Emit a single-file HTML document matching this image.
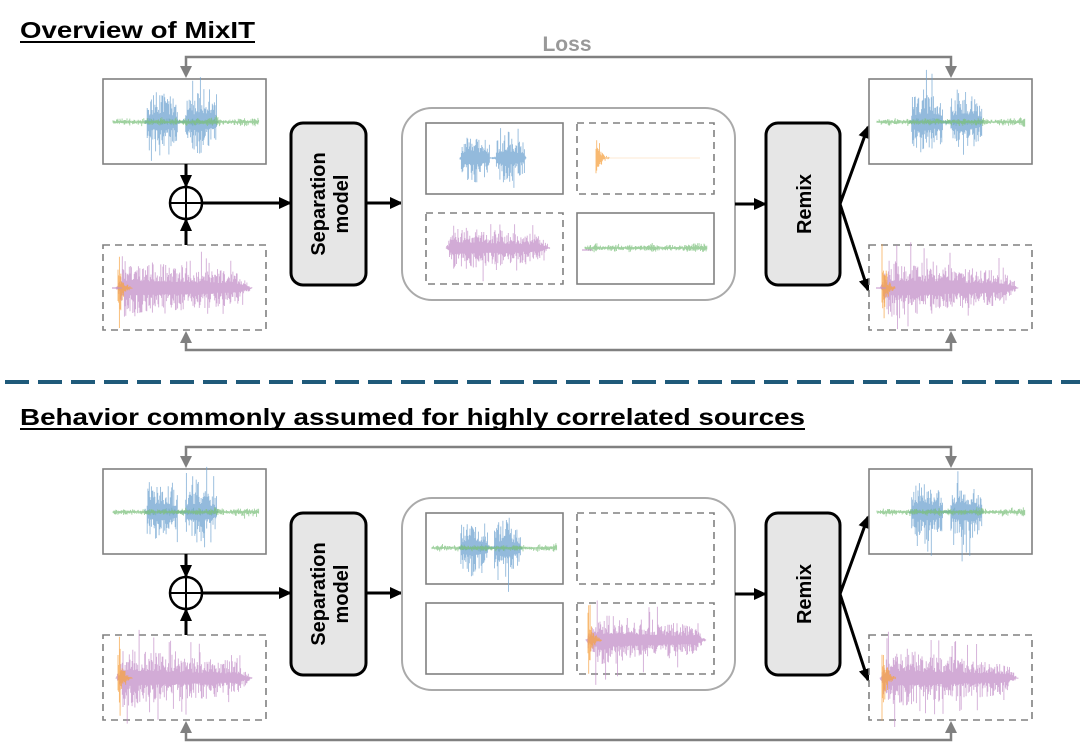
<!DOCTYPE html>
<html><head><meta charset="utf-8"><style>
html,body{margin:0;padding:0;background:#fff;}
svg{display:block;font-family:"Liberation Sans",sans-serif;}
</style></head><body>
<svg id="s" width="1080" height="743" viewBox="0 0 1080 743" xmlns="http://www.w3.org/2000/svg">
<defs>
<marker id="ab" markerWidth="14" markerHeight="14" refX="11" refY="7" orient="auto" markerUnits="userSpaceOnUse"><path d="M0,1 L13,7 L0,13 z" fill="#000"/></marker>
</defs>
<text x="20" y="38" font-size="23" font-weight="bold" textLength="235" lengthAdjust="spacingAndGlyphs">Overview of MixIT</text>
<line x1="20" y1="42" x2="255" y2="42" stroke="#000" stroke-width="2"/>
<text x="567" y="51" font-size="21" font-weight="bold" fill="#999" text-anchor="middle">Loss</text>
<line x1="0" y1="382" x2="1080" y2="382" stroke="#1f5a7a" stroke-width="4" stroke-dasharray="24,9" stroke-dashoffset="-5"/>
<text x="20" y="425" font-size="23" font-weight="bold" textLength="785" lengthAdjust="spacingAndGlyphs">Behavior commonly assumed for highly correlated sources</text>
<line x1="20" y1="429" x2="805" y2="429" stroke="#000" stroke-width="2"/>
</svg>
<script>
var NS="http://www.w3.org/2000/svg",S=document.getElementById('s');
var seed=7;function rnd(){seed=(seed*16807)%2147483647;return seed/2147483647;}
function el(t,a,p){var e=document.createElementNS(NS,t);for(var k in a)e.setAttribute(k,a[k]);(p||S).appendChild(e);return e;}
function wave(g,x0,x1,yc,env,col,op){var d='';for(var x=x0;x<=x1;x+=0.7){var a=env(x)*(0.25+0.75*Math.pow(rnd(),1.8));var b=env(x)*(0.25+0.75*Math.pow(rnd(),1.8));d+='M'+x.toFixed(1)+','+(yc-a).toFixed(1)+'V'+(yc+b).toFixed(1);}el('path',{d:d,stroke:col,'stroke-width':0.9,'stroke-opacity':op,fill:'none'},g);}
function green(g,x0,x1,yc,sc){wave(g,x0,x1,yc,function(x){var t=(x-x0)/(x1-x0);return sc*(2+3*Math.abs(Math.sin(t*20))*rnd()+(t>0.9?3*rnd():0));},'#7fc27f',0.75);}
function blue(g,x0,x1,yc,sc){wave(g,x0,x1,yc,function(x){var t=(x-x0)/(x1-x0);var e=0;if(t>0.02&&t<0.45)e=1-Math.abs(t-0.2)*1.6;if(t>0.55&&t<0.98)e=1-Math.abs(t-0.72)*1.7;e=Math.max(e,0.06);return sc*e*(rnd()<0.12?1.5:0.85);},'#6fa3d0',0.75);}
function purple(g,x0,x1,yc,sc){wave(g,x0,x1,yc,function(x){var t=(x-x0)/(x1-x0);var e=t<0.05?t*14:(1-0.5*t)*(t>0.9?(1-t)*10:1);return sc*Math.max(e,0.03)*(rnd()<0.12?1.4:0.8);},'#c38fc8',0.75);}
function orange(g,x0,yc,sc){wave(g,x0,x0+14,yc,function(x){var t=(x-x0)/14;var e=t<0.2?1:Math.exp(-(t-0.2)*4)*0.6;return sc*e;},'#f5a142',0.75);}
function box(x,y,w,h,dash,g){el('rect',{x:x,y:y,width:w,height:h,fill:'#fff',stroke:'#808080','stroke-width':1.6,'stroke-dasharray':dash?'7,5':'none'},g);}
function line(x1,y1,x2,y2,c,w,m,g){var a={x1:x1,y1:y1,x2:x2,y2:y2,stroke:c,'stroke-width':w};if(m)a['marker-end']='url(#'+m+')';el('line',a,g);}
function mixBlueGreen(g,x0,x1,yc,sc){green(g,x0,x1,yc,sc);blue(g,x0+(x1-x0)*0.22,x0+(x1-x0)*0.72,yc,40*sc);green(g,x0+(x1-x0)*0.22,x0+(x1-x0)*0.72,yc,sc);}
function mixOP(g,x0,x1,yc,sc){purple(g,x0+4,x1,yc,38*sc);orange(g,x0+6,yc,46*sc);line(x0,yc,x0+10,yc,'#c38fc8',1);}
function section(oy,second){
 var g=el('g',{transform:'translate(0,'+oy+')'});
 el('path',{d:'M186,67 V57 H951 V67',stroke:'#808080','stroke-width':2.5,fill:'none'},g);
 el('path',{d:'M180,66 L192,66 L186,78 z',fill:'#808080'},g);
 el('path',{d:'M945,66 L957,66 L951,78 z',fill:'#808080'},g);
 el('path',{d:'M186,342 V350 H951 V342',stroke:'#808080','stroke-width':2.5,fill:'none'},g);
 el('path',{d:'M180,343 L192,343 L186,331 z',fill:'#808080'},g);
 el('path',{d:'M945,343 L957,343 L951,331 z',fill:'#808080'},g);
 box(103,79,163,85,false,g);mixBlueGreen(g,113,259,122,1);
 box(103,245,163,85,true,g);mixOP(g,112,252,288,1);
 line(186,164,186,186,'#000',3,'ab',g);line(186,245,186,220,'#000',3,'ab',g);
 el('circle',{cx:186,cy:203,r:16,fill:'#fff',stroke:'#000','stroke-width':2.5},g);
 line(170,203,202,203,'#000',2,null,g);line(186,187,186,219,'#000',2,null,g);
 line(202,203,290,203,'#000',3,'ab',g);
 el('rect',{x:291,y:123,width:75,height:162,rx:12,fill:'#e6e6e6',stroke:'#000','stroke-width':3},g);
 var t=el('text',{transform:'translate(328,204) rotate(-90)','font-size':20,'font-weight':'bold','text-anchor':'middle'},g);
 var a=el('tspan',{x:0,y:-3},t);a.textContent='Separation';var b=el('tspan',{x:0,y:20},t);b.textContent='model';
 line(366,203,401,203,'#000',3,'ab',g);
 el('rect',{x:402,y:108,width:333,height:192,rx:30,fill:'#fff',stroke:'#aaa','stroke-width':2},g);
 if(!second){
  box(426,123,137,71,false,g);blue(g,460,526,158,32);
  box(577,123,137,71,true,g);orange(g,596,158,34);line(605,158,700,158,'#fbe3c4',0.8,null,g);
  box(426,213,137,71,true,g);purple(g,446,550,248,30);
  box(577,213,137,71,false,g);green(g,585,707,248,1.1);
 } else {
  box(426,123,137,71,false,g);mixBlueGreen(g,432,557,158,0.9);
  box(577,123,137,71,true,g);
  box(426,213,137,71,false,g);
  box(577,213,137,71,true,g);mixOP(g,582,706,250,0.9);
 }
 line(735,204,765,204,'#000',3,'ab',g);
 el('rect',{x:766,y:123,width:74,height:162,rx:12,fill:'#e6e6e6',stroke:'#000','stroke-width':3},g);
 el('text',{transform:'translate(811,204) rotate(-90)','font-size':20,'font-weight':'bold','text-anchor':'middle'},g).textContent='Remix';
 line(840,204,868,127,'#000',3,'ab',g);line(840,204,868,290,'#000',3,'ab',g);
 box(869,79,163,85,false,g);mixBlueGreen(g,877,1025,122,1);
 box(869,245,163,85,true,g);mixOP(g,876,1018,288,1);
}
section(0,false);section(390,true);
</script>
</body></html>
